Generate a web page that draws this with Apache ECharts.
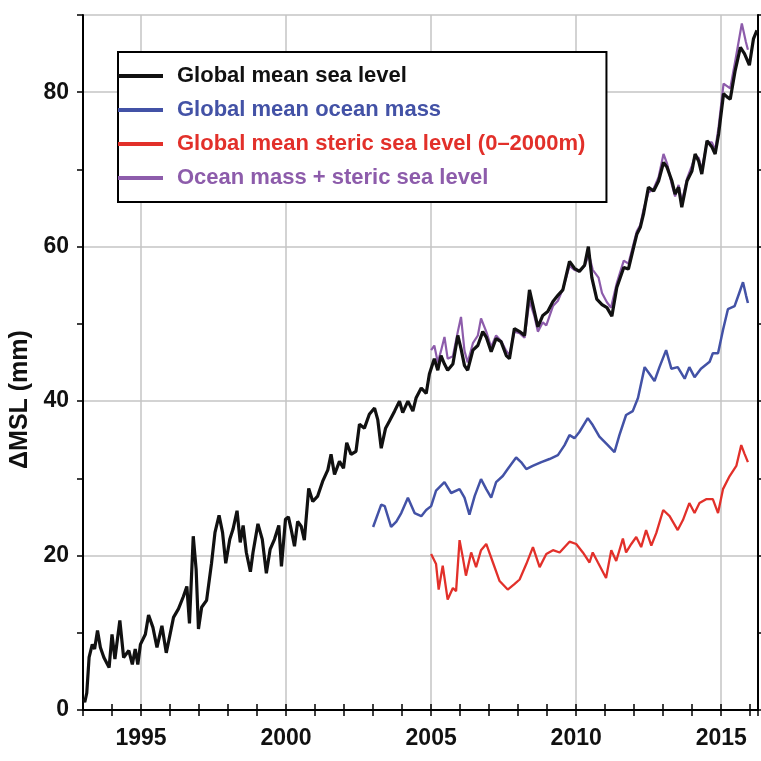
<!DOCTYPE html>
<html>
<head>
<meta charset="utf-8">
<title>Sea level budget</title>
<script src="https://cdn.jsdelivr.net/npm/echarts@6.0.0/dist/echarts.min.js"></script>
<style>
  html, body { margin: 0; padding: 0; background: #fff; }
  #chart { width: 761px; height: 761px; }
</style>
</head>
<body>
<div id="chart"></div>
<script>
// global mean sea level (altimetry), mm
const gmslYears = [1993.03, 1993.06, 1993.13, 1993.21, 1993.32, 1993.4, 1993.5, 1993.6, 1993.72, 1993.9,
  1994.0, 1994.1, 1994.27, 1994.4, 1994.58, 1994.7, 1994.8, 1994.89, 1994.98,
  1995.15, 1995.26, 1995.41, 1995.55, 1995.72, 1995.87, 1995.98,
  1996.12, 1996.29, 1996.46, 1996.58, 1996.67, 1996.8, 1996.9, 1996.98,
  1997.09, 1997.26, 1997.43, 1997.55, 1997.69, 1997.81, 1997.92,
  1998.06, 1998.17, 1998.31, 1998.42, 1998.52, 1998.63, 1998.77, 1998.86,
  1999.03, 1999.18, 1999.32, 1999.45, 1999.6, 1999.75, 1999.84, 1999.98,
  2000.08, 2000.17, 2000.29, 2000.4, 2000.52, 2000.63, 2000.78, 2000.92,
  2001.09, 2001.26, 2001.44, 2001.55, 2001.67, 2001.84, 2001.98,
  2002.09, 2002.24, 2002.41, 2002.53, 2002.7, 2002.87,
  2003.05, 2003.16, 2003.28, 2003.43, 2003.56, 2003.74, 2003.91,
  2004.02, 2004.2, 2004.37, 2004.48, 2004.66, 2004.83, 2004.94,
  2005.0, 2005.11, 2005.23, 2005.34, 2005.46, 2005.57, 2005.75, 2005.92,
  2006.03, 2006.15, 2006.26, 2006.44, 2006.61, 2006.78, 2006.9,
  2007.07, 2007.24, 2007.41, 2007.59, 2007.7, 2007.87,
  2008.05, 2008.22, 2008.39, 2008.56, 2008.68, 2008.85,
  2009.02, 2009.2, 2009.37, 2009.54, 2009.77, 2009.94,
  2010.11, 2010.29, 2010.42, 2010.54, 2010.71, 2010.89,
  2011.06, 2011.23, 2011.4, 2011.64, 2011.8, 2011.98,
  2012.09, 2012.21, 2012.32, 2012.49, 2012.67, 2012.84,
  2013.01, 2013.13, 2013.3, 2013.41, 2013.53, 2013.64, 2013.82, 2013.99,
  2014.1, 2014.22, 2014.33, 2014.51, 2014.68, 2014.79, 2014.91,
  2015.08, 2015.2, 2015.31, 2015.48, 2015.66, 2015.8, 2015.97,
  2016.11, 2016.23]
const gmslValues = [1.5, 1.0, 2.2, 6.8, 8.5, 7.9, 10.3, 8.1, 6.8, 5.5,
  9.8, 6.6, 11.6, 6.8, 7.7, 5.9, 7.9, 5.9, 8.5,
  9.8, 12.3, 10.7, 8.1, 10.9, 7.4, 9.4,
  12.0, 13.1, 14.7, 16.0, 11.2, 22.5, 18.2, 10.5,
  13.3, 14.2, 19.0, 23.0, 25.2, 23.0, 19.0,
  22.1, 23.4, 25.8, 21.7, 23.9, 20.4, 17.9, 20.4,
  24.1, 22.1, 17.7, 20.8, 22.1, 23.9, 18.6, 24.7,
  25.0, 23.5, 21.2, 24.4, 23.8, 22.0, 28.7, 27.0,
  27.7, 29.6, 31.1, 33.1, 30.5, 32.2, 31.3,
  34.6, 33.1, 33.5, 37.0, 36.5, 38.3,
  39.1, 37.6, 33.9, 36.5, 37.4, 38.7, 40.0,
  38.5, 40.0, 38.7, 40.4, 41.7, 41.0, 43.5,
  43.3, 45.5, 44.0, 45.9, 44.8, 44.0, 44.8, 48.5,
  46.8, 44.6, 44.0, 46.6, 47.2, 49.0, 48.3,
  46.4, 48.1, 47.7, 45.9, 45.5, 49.4,
  49.0, 48.5, 54.4, 51.6, 49.6, 51.1,
  51.6, 52.9, 53.7, 54.4, 58.1, 57.2,
  56.8, 57.6, 60.0, 56.0, 53.2, 52.5,
  52.1, 51.0, 54.7, 57.3, 57.1, 59.9,
  61.6, 62.5, 64.2, 67.7, 67.2, 68.5,
  70.9, 70.3, 68.5, 66.8, 67.7, 65.1, 68.5, 69.8,
  72.0, 71.1, 69.4, 73.7, 72.9, 72.0, 74.6,
  79.8, 79.4, 79.1, 82.8, 85.8, 85.0, 83.5,
  86.9, 88.0]

// global mean ocean mass (GRACE), mm
const massYears = [2003.0, 2003.28, 2003.4, 2003.62, 2003.8, 2003.97, 2004.2, 2004.43, 2004.66, 2004.83,
  2005.0, 2005.17, 2005.46, 2005.69, 2005.98, 2006.15, 2006.32, 2006.5, 2006.72, 2006.9,
  2007.07, 2007.24, 2007.47, 2007.64, 2007.93, 2008.1, 2008.28, 2008.5, 2008.8,
  2009.08, 2009.37, 2009.6, 2009.77, 2009.94, 2010.11, 2010.4, 2010.57, 2010.8,
  2011.09, 2011.32, 2011.49, 2011.72, 2011.95, 2012.13, 2012.36, 2012.53, 2012.7, 2012.87,
  2013.1, 2013.28, 2013.5, 2013.74, 2013.9, 2014.08, 2014.3, 2014.6, 2014.71, 2014.89,
  2015.06, 2015.23, 2015.46, 2015.63, 2015.75, 2015.86, 2015.92]
const massValues = [23.7, 26.6, 26.4, 23.7, 24.4, 25.5, 27.5, 25.5, 25.1, 25.9,
  26.4, 28.4, 29.5, 28.1, 28.6, 27.5, 25.3, 27.7, 29.9, 28.6,
  27.5, 29.5, 30.3, 31.2, 32.7, 32.1, 31.2, 31.6, 32.1,
  32.5, 33.0, 34.3, 35.6, 35.2, 36.0, 37.8, 36.9, 35.4,
  34.3, 33.4, 35.6, 38.2, 38.7, 40.4, 44.4, 43.5, 42.6, 44.4,
  46.6, 44.2, 44.4, 42.9, 44.4, 43.1, 44.2, 45.1, 46.2, 46.2,
  49.2, 51.9, 52.3, 54.1, 55.4, 53.6, 52.7]

// global mean steric sea level 0-2000m (Argo), mm
const stericYears = [2005.0, 2005.17, 2005.26, 2005.4, 2005.57, 2005.75, 2005.86, 2005.98,
  2006.09, 2006.2, 2006.38, 2006.55, 2006.72, 2006.9, 2007.13, 2007.36, 2007.64, 2007.87,
  2008.05, 2008.28, 2008.51, 2008.74, 2008.97, 2009.2, 2009.43, 2009.77, 2010.0,
  2010.23, 2010.46, 2010.57, 2010.75, 2011.03, 2011.21, 2011.38, 2011.61, 2011.72, 2011.9,
  2012.07, 2012.24, 2012.41, 2012.59, 2012.76, 2013.0, 2013.22, 2013.5, 2013.68, 2013.9,
  2014.08, 2014.25, 2014.48, 2014.71, 2014.89, 2015.06, 2015.29, 2015.52, 2015.69, 2015.8, 2015.92]
const stericValues = [20.2, 18.9, 15.6, 18.7, 14.3, 15.8, 15.4, 22.0,
  19.8, 17.4, 20.4, 18.5, 20.7, 21.5, 19.1, 16.7, 15.6, 16.3,
  16.9, 18.9, 21.1, 18.5, 20.2, 20.7, 20.4, 21.8, 21.5,
  20.4, 19.1, 20.4, 19.1, 17.1, 20.7, 19.3, 22.2, 20.4, 21.5,
  22.4, 21.1, 23.3, 21.3, 22.9, 25.9, 25.1, 23.3, 24.6, 26.8,
  25.5, 26.8, 27.3, 27.3, 25.5, 28.6, 30.3, 31.6, 34.3, 33.2, 32.1]

// ocean mass + steric, mm
const sumYears = [2005.0, 2005.11, 2005.23, 2005.34, 2005.46, 2005.57, 2005.75, 2005.92,
  2006.03, 2006.15, 2006.26, 2006.44, 2006.61, 2006.72, 2006.9,
  2007.07, 2007.24, 2007.41, 2007.59, 2007.7, 2007.87,
  2008.05, 2008.22, 2008.39, 2008.56, 2008.68, 2008.85, 2008.97,
  2009.2, 2009.37, 2009.54, 2009.77, 2009.94,
  2010.11, 2010.29, 2010.44, 2010.57, 2010.77, 2010.89,
  2011.06, 2011.2, 2011.4, 2011.64, 2011.8, 2011.98,
  2012.09, 2012.21, 2012.32, 2012.49, 2012.67, 2012.84,
  2013.01, 2013.13, 2013.3, 2013.41, 2013.53, 2013.64, 2013.82, 2013.99,
  2014.1, 2014.22, 2014.33, 2014.51, 2014.68, 2014.79, 2014.91,
  2015.08, 2015.2, 2015.31, 2015.48, 2015.71, 2015.85, 2015.92]
const sumValues = [46.6, 47.2, 45.0, 46.5, 48.3, 45.5, 45.8, 49.0,
  50.9, 46.5, 45.0, 47.5, 48.5, 50.7, 49.0,
  47.0, 48.5, 47.8, 46.5, 46.0, 49.0,
  48.8, 48.2, 53.0, 51.0, 49.0, 50.2, 49.8,
  52.3, 53.0, 54.5, 57.5, 57.0,
  56.8, 57.5, 59.0, 57.0, 56.0, 54.0,
  52.8, 52.1, 55.3, 58.2, 57.8, 60.4,
  62.0, 62.8, 64.8, 67.0, 67.5, 69.0,
  72.0, 70.8, 68.0, 66.5, 68.0, 65.8, 68.8, 70.5,
  71.8, 71.5, 70.0, 73.5, 73.5, 72.5, 75.5,
  81.1, 80.8, 80.5, 84.0, 88.9, 86.5, 85.5]

// axis ticks
const yearGrid = [1995, 2000, 2005, 2010, 2015]
const seriesNames = ['Global mean sea level', 'Global mean ocean mass',
  'Global mean steric sea level (0\u20132000m)', 'Ocean mass + steric sea level']
const seriesColors = ['#111111', '#4352a6', '#e2302a', '#8d5cab']

function pairs(xs, ys) {
  return xs.map((x, i) => [x, ys[i]])
}

const chartInstance = echarts.init(document.getElementById('chart'))

const frameLine = { lineStyle: { color: '#000', width: 2 } }
const tick = { show: true, length: 6, lineStyle: { color: '#000', width: 1.5 } }
const gridLine = { show: true, lineStyle: { color: '#c4c4c4', width: 1.5 } }

const option = {
  animation: false,
  backgroundColor: '#fff',
  textStyle: { fontFamily: 'Liberation Sans, Arial, sans-serif' },
  // fixed plot rectangle, do not let the axis name push it around
  grid: { left: 83, right: 3.5, top: 15, bottom: 51, outerBoundsMode: 'none' },
  legend: {
    orient: 'vertical',
    left: 118,
    top: 52,
    icon: 'rect',
    itemWidth: 45,
    itemHeight: 4,
    itemGap: 10,
    padding: [12, 21, 12, 0],
    borderColor: '#000',
    borderWidth: 2,
    backgroundColor: '#fff',
    selectedMode: false,
    textStyle: { fontSize: 22, fontWeight: 'bold', lineHeight: 24, padding: [0, 0, 0, 9] },
    data: seriesNames.map((n, i) => ({ name: n, textStyle: { color: seriesColors[i] } }))
  },
  xAxis: [
    {
      type: 'value', min: 1993, max: 2016.25, interval: 1, position: 'bottom',
      axisLine: frameLine, axisTick: tick,
      axisLabel: {
        fontSize: 23, fontWeight: 'bold', color: '#111', margin: 17,
        formatter: v => (v % 5 === 0 ? String(v) : '')
      },
      splitLine: { show: false }
    },
    {
      type: 'value', min: 1993, max: 2016.25, interval: 1, position: 'top',
      axisLine: frameLine, axisTick: tick, axisLabel: { show: false }, splitLine: { show: false }
    },
    {
      // only used for the vertical grid lines
      type: 'value', min: 1993, max: 2016.25, position: 'bottom',
      axisLine: { show: false },
      axisTick: { show: false, customValues: yearGrid },
      axisLabel: { show: false, customValues: yearGrid },
      splitLine: gridLine
    }
  ],
  yAxis: [
    {
      type: 'value', min: 0, max: 90, interval: 10, position: 'left',
      name: '\u0394MSL (mm)', nameLocation: 'middle', nameGap: 43,
      nameTextStyle: { fontSize: 25, fontWeight: 'bold', color: '#111', padding: [0, 74, 0, 0] },
      axisLine: frameLine, axisTick: tick,
      axisLabel: {
        fontSize: 23, fontWeight: 'bold', color: '#111', margin: 14,
        formatter: v => (v % 20 === 0 && v < 90 ? String(v) : '')
      },
      splitLine: { show: false }
    },
    {
      type: 'value', min: 0, max: 90, interval: 10, position: 'right',
      axisLine: frameLine, axisTick: tick, axisLabel: { show: false }, splitLine: { show: false }
    },
    {
      // horizontal grid lines every 20 mm
      type: 'value', min: 0, max: 90, interval: 20, position: 'left',
      axisLine: { show: false }, axisTick: { show: false }, axisLabel: { show: false },
      splitLine: gridLine
    }
  ],
  series: [
    {
      name: seriesNames[3], type: 'line', data: pairs(sumYears, sumValues),
      showSymbol: false, symbol: 'none', color: seriesColors[3],
      lineStyle: { width: 2.2, color: seriesColors[3] }
    },
    {
      name: seriesNames[1], type: 'line', data: pairs(massYears, massValues),
      showSymbol: false, symbol: 'none', color: seriesColors[1],
      lineStyle: { width: 2.5, color: seriesColors[1] }
    },
    {
      name: seriesNames[2], type: 'line', data: pairs(stericYears, stericValues),
      showSymbol: false, symbol: 'none', color: seriesColors[2],
      lineStyle: { width: 2.3, color: seriesColors[2] }
    },
    {
      name: seriesNames[0], type: 'line', data: pairs(gmslYears, gmslValues),
      showSymbol: false, symbol: 'none', color: seriesColors[0],
      lineStyle: { width: 3.2, color: seriesColors[0] }
    }
  ]
}

chartInstance.setOption(option)
</script>
</body>
</html>
